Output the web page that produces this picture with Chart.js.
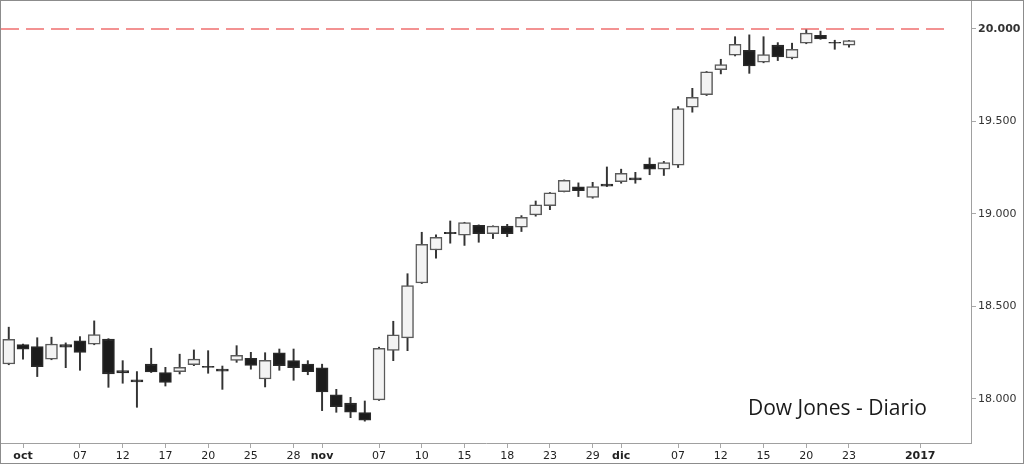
<!DOCTYPE html>
<html>
<head>
<meta charset="utf-8">
<script src="https://cdn.jsdelivr.net/npm/chart.js@4.4.0/dist/chart.umd.min.js"></script>
<style>
  html, body { margin: 0; padding: 0; background: #fff; }
</style>
</head>
<body>
<canvas id="grafico" width="1024" height="464"></canvas>
<script>
// Dow Jones diario, 30/09/2016 - 23/12/2016
const apertura = [18189, 18294, 18283, 18215, 18294, 18314, 18296, 18324, 18153, 18104,
    18189, 18142, 18148, 18185, 18176, 18162, 18209, 18220, 18108, 18250,
    18207, 18188, 18168, 18022, 17978, 17926, 17995, 18263, 18330, 18627,
    18805, 18901, 18885, 18939, 18894, 18935, 18928, 18995, 19045, 19121,
    19146, 19090, 19162, 19175, 19195, 19269, 19242, 19263, 19577, 19645,
    19780, 19858, 19885, 19820, 19913, 19843, 19923, 19966, 19928, 19912];
const maximo = [18388, 18296, 18331, 18334, 18303, 18337, 18422, 18326, 18207, 18148,
    18274, 18171, 18242, 18265, 18261, 18178, 18288, 18252, 18250, 18270,
    18270, 18207, 18188, 18052, 18009, 17989, 18280, 18420, 18677, 18901,
    18887, 18962, 18955, 18941, 18936, 18944, 18991, 19070, 19116, 19184,
    19168, 19171, 19254, 19242, 19225, 19303, 19284, 19580, 19679, 19770,
    19836, 19958, 19968, 19958, 19926, 19923, 19995, 19988, 19939, 19939];
const minimo = [18185, 18215, 18121, 18212, 18169, 18155, 18293, 18063, 18085, 17955,
    18143, 18070, 18135, 18180, 18139, 18052, 18198, 18161, 18065, 18155,
    18101, 18131, 17937, 17928, 17899, 17880, 17992, 18207, 18261, 18624,
    18761, 18842, 18830, 18847, 18867, 18877, 18905, 18988, 19023, 19119,
    19094, 19085, 19148, 19166, 19166, 19212, 19208, 19251, 19550, 19640,
    19757, 19854, 19760, 19817, 19829, 19838, 19920, 19944, 19890, 19901];
const cierre = [18323, 18269, 18175, 18297, 18280, 18252, 18348, 18135, 18141, 18092,
    18146, 18090, 18171, 18215, 18170, 18150, 18236, 18181, 18209, 18180,
    18169, 18148, 18038, 17958, 17928, 17885, 18274, 18346, 18613, 18836,
    18874, 18894, 18953, 18894, 18934, 18893, 18982, 19049, 19114, 19182,
    19126, 19148, 19150, 19220, 19184, 19242, 19278, 19569, 19631, 19768,
    19807, 19917, 19800, 19861, 19849, 19890, 19977, 19946, 19923, 19937];

// sesiones contadas desde el 03/10 (el 30/09 es la -1)
const posTicksX = [0, 4, 7, 10, 13, 16, 19, 21, 25, 28, 31, 34, 37, 40, 42, 46, 49, 52, 55, 58, 63];
const etiquetasX = ["oct", "07", "12", "17", "20", "25", "28", "nov", "07", "10", "15", "18", "23",
    "29", "dic", "07", "12", "15", "20", "23", "2017"];
const negritasX = ["oct", "nov", "dic", "2017"];
const posTicksY = [18000, 18500, 19000, 19500, 20000];
const nivelResistencia = 20000;

const sesiones = apertura.map((_, i) => i - 1);

const cuerpos = sesiones.map((x, i) => ({ x: x, y: [apertura[i], cierre[i]] }));
const mechas = sesiones.map((x, i) => ({ x: x, y: [minimo[i], maximo[i]] }));
const sube = apertura.map((o, i) => cierre[i] >= o);

function formatoMiles(v) {
    return String(v).replace(/\B(?=(\d{3})+(?!\d))/g, ".");
}

const marco = {
    id: "marco",
    afterDraw(chart) {
        const ctx = chart.ctx;
        ctx.save();
        ctx.strokeStyle = "#8c8c8c";
        ctx.lineWidth = 1;
        ctx.strokeRect(0.5, 0.5, chart.width - 1, chart.height - 1);
        ctx.fillStyle = "#1a1a1a";
        ctx.font = '21px "Open Sans"';
        ctx.textBaseline = "alphabetic";
        ctx.fillText("Dow Jones - Diario", 748, 415);
        ctx.restore();
    }
};

const ctx = document.getElementById("grafico");

new Chart(ctx, {
    type: "bar",
    data: {
        datasets: [{
            label: "cuerpo",
            data: cuerpos,
            backgroundColor: sube.map(s => s ? "#f3f3f3" : "#1c1c1c"),
            borderColor: sube.map(s => s ? "#5a5a5a" : "#2a2a2a"),
            borderWidth: 1.5,
            borderSkipped: false,
            barThickness: 12,
            grouped: false,
            order: 0
        }, {
            label: "mecha",
            data: mechas,
            backgroundColor: "#333",
            borderWidth: 0,
            barThickness: 1.3,
            grouped: false,
            order: 1
        }, {
            type: "line",
            label: "20.000",
            data: [{ x: -1.545, y: nivelResistencia }, { x: 64.88, y: nivelResistencia }],
            borderColor: "#ef6f6f",
            borderWidth: 1.5,
            borderDash: [18, 7],
            pointRadius: 0,
            order: 2
        }]
    },
    options: {
        responsive: false,
        animation: false,
        layout: { padding: { left: 1, top: 1, right: 0, bottom: 0 } },
        plugins: {
            legend: { display: false },
            tooltip: { enabled: false }
        },
        scales: {
            x: {
                type: "linear",
                min: -1.545,
                max: 66.567,
                offset: false,
                afterBuildTicks: (scale) => {
                    scale.ticks = posTicksX.map(v => ({ value: v }));
                },
                afterFit: (scale) => {
                    scale.height = 21;
                    scale.paddingLeft = 0;
                    scale.paddingRight = 0;
                },
                grid: {
                    offset: false,
                    drawOnChartArea: false,
                    drawTicks: true,
                    tickLength: 5,
                    color: "#a8a8a8"
                },
                border: { display: true, color: "#a0a0a0" },
                ticks: {
                    autoSkip: false,
                    maxRotation: 0,
                    padding: 2,
                    color: "#222",
                    font: (c) => {
                        const et = etiquetasX[posTicksX.indexOf(c.tick ? c.tick.value : -99)];
                        return { family: "DejaVu Sans", size: 11, weight: negritasX.includes(et) ? "bold" : "normal" };
                    },
                    callback: (v) => etiquetasX[posTicksX.indexOf(v)]
                }
            },
            y: {
                position: "right",
                min: 17762,
                max: 20151,
                beginAtZero: false,
                afterBuildTicks: (scale) => {
                    scale.ticks = posTicksY.map(v => ({ value: v }));
                },
                afterFit: (scale) => {
                    scale.width = 53;
                    scale.paddingTop = 0;
                    scale.paddingBottom = 0;
                },
                grid: {
                    drawOnChartArea: false,
                    drawTicks: true,
                    tickLength: 5,
                    color: "#a8a8a8"
                },
                border: { display: true, color: "#a0a0a0" },
                ticks: {
                    padding: 2,
                    color: "#333",
                    font: (c) => ({
                        family: "DejaVu Sans",
                        size: 11,
                        weight: c.tick && c.tick.value === nivelResistencia ? "bold" : "normal"
                    }),
                    callback: (v) => formatoMiles(v)
                }
            }
        }
    },
    plugins: [marco]
});
</script>
</body>
</html>
